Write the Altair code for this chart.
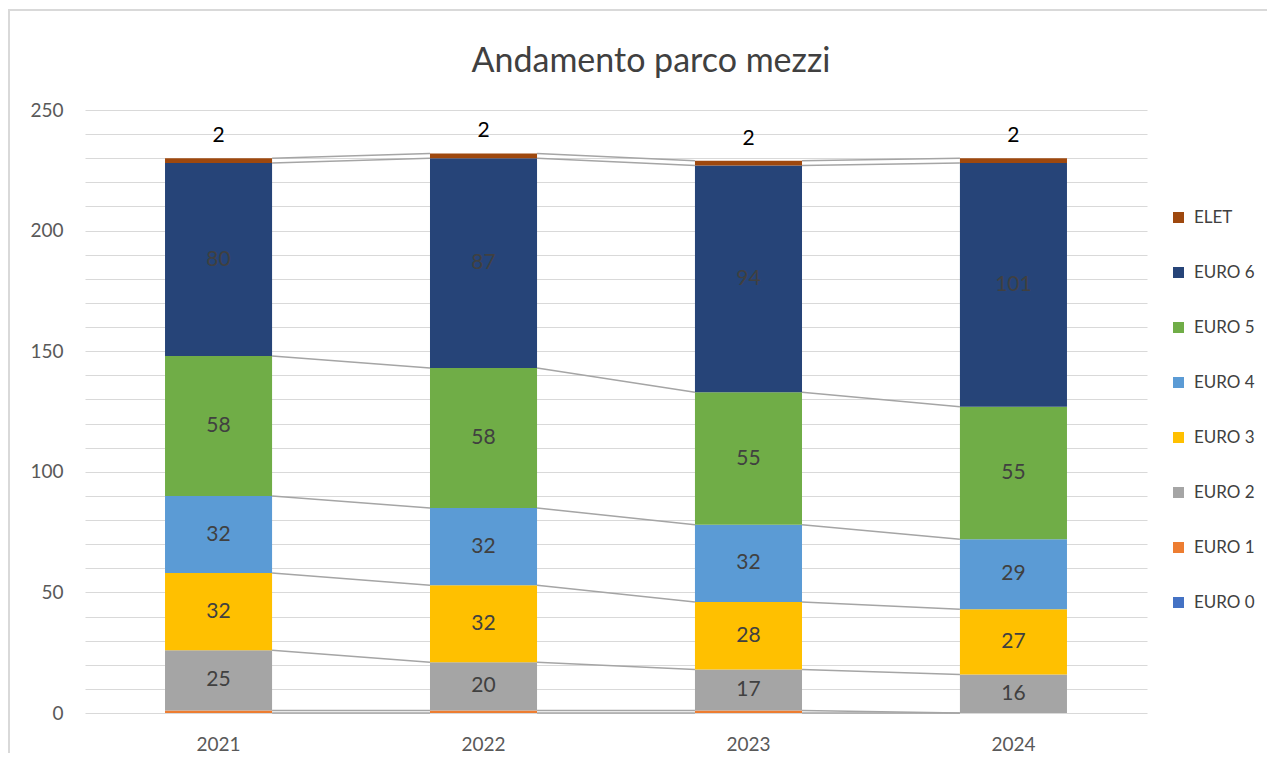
import altair as alt
import pandas as pd

years = ["2021", "2022", "2023", "2024"]
series = ["EURO 0", "EURO 1", "EURO 2", "EURO 3", "EURO 4", "EURO 5", "EURO 6", "ELET"]
euro0 = [0, 0, 0, 0]
euro1 = [1, 1, 1, 0]
euro2 = [25, 20, 17, 16]
euro3 = [32, 32, 28, 27]
euro4 = [32, 32, 32, 29]
euro5 = [58, 58, 55, 55]
euro6 = [80, 87, 94, 101]
elet = [2, 2, 2, 2]
colors = ["#4472C4", "#ED7D31", "#A5A5A5", "#FFC000", "#5B9BD5", "#70AD47", "#264478", "#9E480E"]
y_ticks = list(range(0, 251, 10))

all_vals = [euro0, euro1, euro2, euro3, euro4, euro5, euro6, elet]
rows = []
for si, (name, vals) in enumerate(zip(series, all_vals)):
    for yr, v in zip(years, vals):
        rows.append({"year": yr, "series": name, "idx": si, "value": v})
df = pd.DataFrame(rows)

FONT = "Lato"
legend_order = series[::-1]
color_range = colors[::-1]

x_scale = alt.Scale(paddingInner=0.596, paddingOuter=0.302)
y_scale = alt.Scale(domain=[0, 250], nice=False)

base = alt.Chart(df).transform_stack(
    stack="value", groupby=["year"], as_=["y0", "y1"],
    sort=[alt.SortField("idx", order="ascending")]
)

x_axis = alt.Axis(labelFontSize=19, labelColor="#595959", labelFont=FONT,
                  ticks=False, domain=False, labelPadding=22, labelAngle=0,
                  grid=False, title=None)
y_axis = alt.Axis(values=y_ticks,
                  labelExpr="datum.value % 50 == 0 ? datum.label : ''",
                  labelOverlap=False,
                  labelFontSize=19, labelColor="#595959", labelFont=FONT,
                  ticks=False, domain=False, labelPadding=22,
                  grid=True, gridColor="#D9D9D9", gridWidth=1.2, title=None)

bars = base.mark_bar().encode(
    x=alt.X("year:N", scale=x_scale, axis=x_axis),
    y=alt.Y("y0:Q", scale=y_scale, axis=y_axis),
    y2="y1:Q",
    color=alt.Color("series:N",
                    scale=alt.Scale(domain=legend_order, range=color_range),
                    legend=alt.Legend(title=None, orient="none", legendX=1085, legendY=99,
                                      symbolType="square", symbolSize=121,
                                      symbolStrokeWidth=0, labelFontSize=17,
                                      labelFont=FONT, labelColor="#404040",
                                      labelOffset=7, rowPadding=37, padding=0)),
    order=alt.Order("idx:Q", sort="ascending"),
)

lines = base.transform_window(
    window=[alt.WindowFieldDef(op="lead", field="y1", **{"as": "next_y"}),
            alt.WindowFieldDef(op="lead", field="year", **{"as": "next_year"})],
    groupby=["series"],
    sort=[alt.SortField("year", order="ascending")],
).transform_filter("datum.next_year != null").mark_rule(
    color="#A5A5A5", strokeWidth=1.5
).encode(
    x=alt.X("year:N", bandPosition=1, axis=x_axis),
    x2=alt.X2("next_year", bandPosition=0),
    y=alt.Y("y1:Q", axis=y_axis),
    y2=alt.Y2("next_y"),
)

seg_labels = base.transform_filter(
    "datum.value >= 10 && datum.series != 'ELET'"
).transform_calculate(mid="(datum.y0 + datum.y1) / 2").mark_text(
    fontSize=21, color="#404040", font=FONT
).encode(
    x=alt.X("year:N", axis=x_axis),
    y=alt.Y("mid:Q", axis=y_axis),
    text=alt.Text("value:Q"),
)

top_labels = base.transform_filter("datum.series == 'ELET'").mark_text(
    fontSize=21, color="#000000", font=FONT, dy=-22
).encode(
    x=alt.X("year:N", axis=x_axis),
    y=alt.Y("y1:Q", axis=y_axis),
    text=alt.Text("value:Q"),
)

border = alt.Chart(pd.DataFrame({"k": [0]})).mark_rect(
    fillOpacity=0, stroke="#D9D9D9", strokeWidth=2, clip=False
).encode(
    x=alt.value(-76), x2=alt.value(1230), y=alt.value(-100), y2=alt.value(700)
)

chart = alt.layer(bars, lines, seg_labels, top_labels, border).properties(
    width=1062, height=603,
    title=alt.TitleParams("Andamento parco mezzi", fontSize=34, font=FONT,
                          fontWeight="normal", color="#404040", anchor="middle",
                          frame="group", dx=35, dy=110, offset=40),
    autosize=alt.AutoSizeParams(type="none"),
    padding={"left": 77, "top": 102, "right": 120, "bottom": 40},
).configure(font=FONT).configure_view(
    strokeWidth=0, stroke="transparent"
).configure_axis(labelOverlap=False)

chart.save("out.html", embed_options={"renderer": "svg", "actions": False})
